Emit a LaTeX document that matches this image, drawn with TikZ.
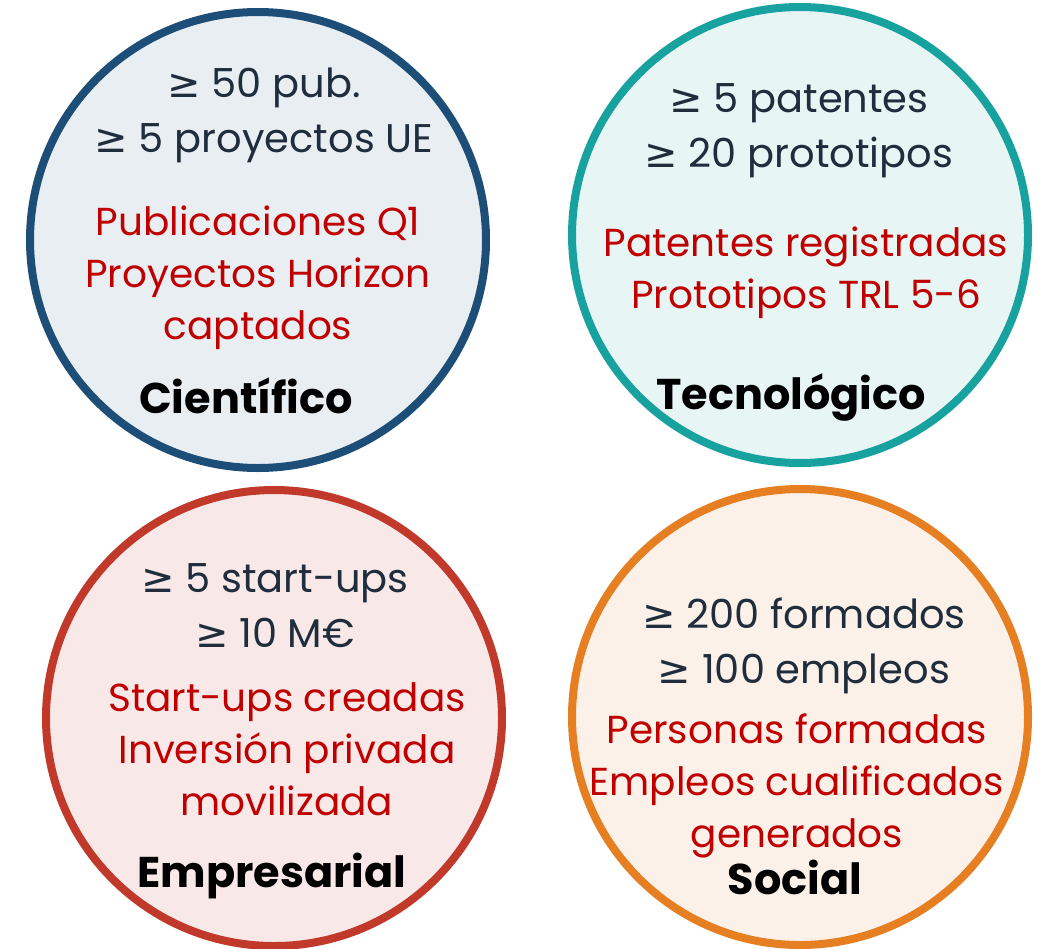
\documentclass[tikz,border=0pt]{standalone}
\usepackage{fontspec}
\usepackage{xcolor}
\usepackage{tikz}
\setmainfont{Poppins}
\newfontfamily\symfont{DejaVu Sans}
\newcommand{\gte}{{\symfont ≥}}
\definecolor{sciblue}{RGB}{29, 78, 119}
\definecolor{tecteal}{RGB}{23, 162, 160}
\definecolor{empred}{RGB}{192, 57, 43}
\definecolor{socorange}{RGB}{230, 126, 34}
\definecolor{scifill}{RGB}{233, 238, 243}
\definecolor{tecfill}{RGB}{231, 245, 244}
\definecolor{empfill}{RGB}{248, 233, 232}
\definecolor{socfill}{RGB}{252, 241, 233}
\definecolor{goaldark}{RGB}{31, 45, 61}
\definecolor{indred}{RGB}{192, 0, 0}

\begin{document}
\begin{tikzpicture}[x=1pt, y=-1pt,
  ring/.style={circle, line width=8pt, minimum size=456pt, inner sep=0pt},
  goal/.style={align=center, text=goaldark, font=\fontsize{40}{55}\selectfont},
  indicator/.style={align=center, text=indred, font=\fontsize{39}{52}\selectfont},
  dimlabel/.style={font=\fontsize{43}{50}\selectfont\bfseries, text=black}]
\useasboundingbox (0,0) rectangle (1043,948);

% Circles
\node[ring, draw=sciblue, fill=scifill] (sci) at (258,240) {};
\node[ring, draw=tecteal, fill=tecfill] (tec) at (800,235) {};
\node[ring, draw=empred, fill=empfill] (emp) at (274,718) {};
\node[ring, draw=socorange, fill=socfill] (soc) at (800,717) {};

% Cientifico
\node[goal] (sci-goal) at (264,115) {\gte{} 50 pub.\\\gte{} 5 proyectos UE};
\node[indicator] (sci-ind) at (258,278) {Publicaciones Q1\\Proyectos Horizon\\captados};
\node[dimlabel] (sci-label) at (246,396) {Científico};

% Tecnologico
\node[goal] (tec-goal) at (799,131) {\gte{} 5 patentes\\\gte{} 20 prototipos};
\node[indicator] (tec-ind) at (806,273) {Patentes registradas\\Prototipos TRL 5-6};
\node[dimlabel] (tec-label) at (791,397) {Tecnológico};

% Empresarial
\node[goal] (emp-goal) at (275,606) {\gte{} 5 start-ups\\\gte{} 10 M€};
\node[indicator] (emp-ind) at (287,749) {Start-ups creadas\\Inversión privada\\movilizada};
\node[dimlabel] (emp-label) at (272,876) {Empresarial};

% Social
\node[goal] (soc-goal) at (804,646) {\gte{} 200 formados\\\gte{} 100 empleos};
\node[indicator] (soc-ind) at (797,786) {Personas formadas\\Empleos cualificados\\generados};
\node[dimlabel] (soc-label) at (795,877) {Social};
\end{tikzpicture}
\end{document}
